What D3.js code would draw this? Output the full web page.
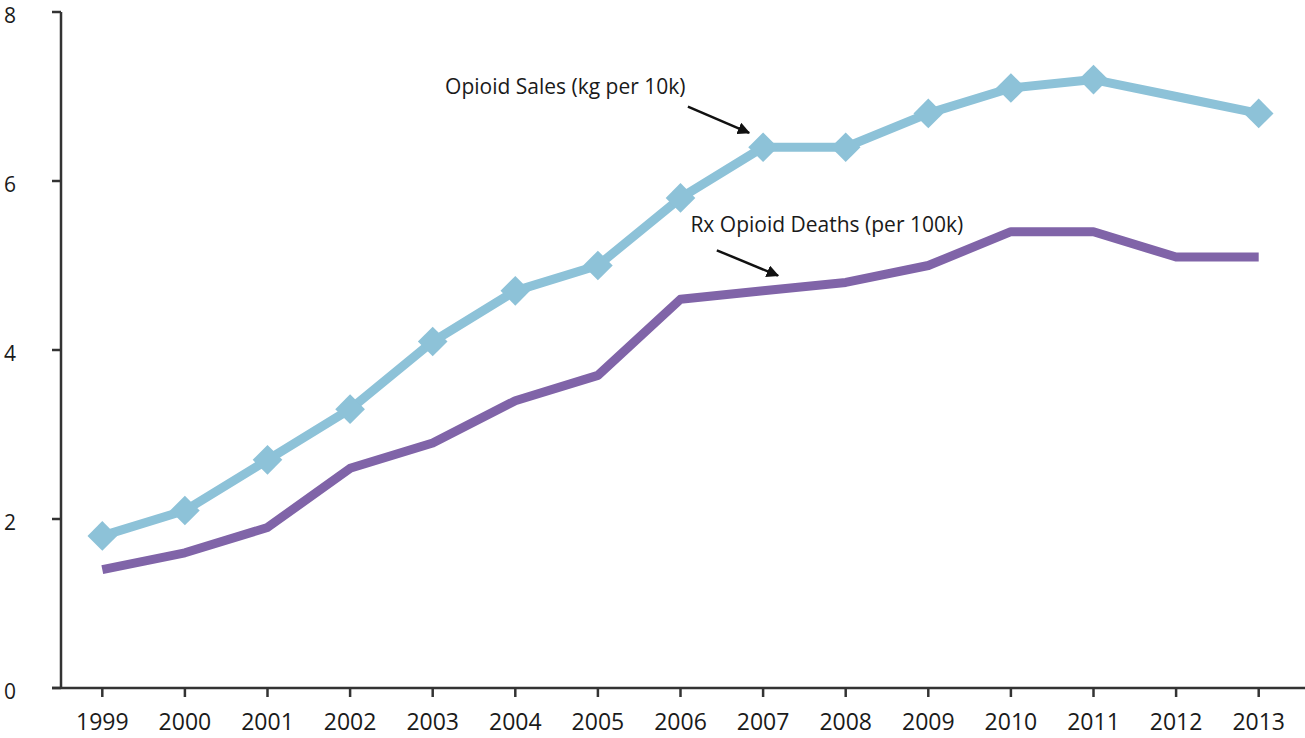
<!DOCTYPE html>
<html>
<head>
<meta charset="utf-8">
<script src="https://cdn.jsdelivr.net/npm/d3@7"></script>
<style>
  body { margin: 0; background: #fff; }
  text { font-family: "Open Sans", sans-serif; fill: #1a1a1a; }
</style>
</head>
<body>
<div id="chart"></div>
<script>
// data
const years = [1999, 2000, 2001, 2002, 2003, 2004, 2005, 2006, 2007, 2008, 2009, 2010, 2011, 2012, 2013]
const salesValues = [1.8, 2.1, 2.7, 3.3, 4.1, 4.7, 5.0, 5.8, 6.4, 6.4, 6.8, 7.1, 7.2, 7.0, 6.8]
const deathValues = [1.4, 1.6, 1.9, 2.6, 2.9, 3.4, 3.7, 4.6, 4.7, 4.8, 5.0, 5.4, 5.4, 5.1, 5.1]
const markedYears = [1999, 2000, 2001, 2002, 2003, 2004, 2005, 2006, 2007, 2008, 2009, 2010, 2011, 2013]
const yTicks = [0, 2, 4, 6, 8]
const labels = [
  {text: "Opioid Sales (kg per 10k)", year: 2003.15, value: 7.03, arrowFrom: [2006.09, 6.88], arrowTo: [2006.83, 6.57]},
  {text: "Rx Opioid Deaths (per 100k)", year: 2006.12, value: 5.40, arrowFrom: [2006.44, 5.18], arrowTo: [2007.18, 4.88]}
]

const W = 1305, H = 738
const margin = {top: 12, right: 5, bottom: 50, left: 61}
const width = W - margin.left - margin.right,
      height = H - margin.top - margin.bottom

const svg = d3.select("#chart").append("svg")
    .attr("width", W)
    .attr("height", H)

const g = svg.append("g")
    .attr("transform", "translate(" + margin.left + "," + margin.top + ")")

let x = d3.scalePoint().domain(years).range([0, width]).padding(0.5)
let y = d3.scaleLinear().domain([0, 8]).range([height, 0])
// continuous year scale for the annotation positions
let xc = d3.scaleLinear().domain([years[0], years[years.length - 1]]).range([x(years[0]), x(years[years.length - 1])])

// axes
const axisColor = "#333"
g.append("line")
    .attr("x1", 0).attr("x2", 0)
    .attr("y1", 0).attr("y2", height)
    .attr("stroke", axisColor).attr("stroke-width", 2.5)

g.append("line")
    .attr("x1", -9).attr("x2", width + 5)
    .attr("y1", height).attr("y2", height)
    .attr("stroke", axisColor).attr("stroke-width", 2.5)

g.selectAll(".ytick")
    .data(yTicks)
    .enter()
    .append("line")
        .attr("x1", -9).attr("x2", 0)
        .attr("y1", d => y(d)).attr("y2", d => y(d))
        .attr("stroke", axisColor).attr("stroke-width", 2.5)

g.selectAll(".ylab")
    .data(yTicks)
    .enter()
    .append("text")
        .attr("x", -51)
        .attr("y", d => y(d))
        .attr("dy", "0.5em")
        .attr("text-anchor", "middle")
        .style("font-size", "21px")
        .text(d => d)

g.selectAll(".xtick")
    .data(years)
    .enter()
    .append("line")
        .attr("x1", d => x(d)).attr("x2", d => x(d))
        .attr("y1", height).attr("y2", height + 9)
        .attr("stroke", axisColor).attr("stroke-width", 2.5)

g.selectAll(".xlab")
    .data(years)
    .enter()
    .append("text")
        .attr("x", d => x(d))
        .attr("y", height + 42)
        .attr("text-anchor", "middle")
        .style("font-size", "23px")
        .text(d => d)

// lines
const line = d3.line()
    .x((d, i) => x(years[i]))
    .y(d => y(d))

g.append("path")
    .datum(deathValues)
    .attr("d", line)
    .attr("fill", "none")
    .attr("stroke", "#8064A8")
    .attr("stroke-width", 9)
    .attr("stroke-linejoin", "round")

g.append("path")
    .datum(salesValues)
    .attr("d", line)
    .attr("fill", "none")
    .attr("stroke", "#8DC2D8")
    .attr("stroke-width", 9)
    .attr("stroke-linejoin", "round")

const marked = years.map((yr, i) => ({year: yr, value: salesValues[i]}))
    .filter(d => markedYears.includes(d.year))

g.selectAll(".diamond")
    .data(marked)
    .enter()
    .append("path")
        .attr("d", d3.symbol().type(d3.symbolDiamond2).size(560))
        .attr("transform", d => "translate(" + x(d.year) + "," + y(d.value) + ")")
        .attr("fill", "#8DC2D8")

// annotations
svg.append("defs").append("marker")
    .attr("id", "arrow")
    .attr("viewBox", "0 0 10 10")
    .attr("refX", 9).attr("refY", 5)
    .attr("markerWidth", 5).attr("markerHeight", 5)
    .attr("orient", "auto")
    .append("path")
        .attr("d", "M0,0 L10,5 L0,10 Z")
        .attr("fill", "#111")

labels.forEach(l => {
    g.append("text")
        .attr("x", xc(l.year))
        .attr("y", y(l.value))
        .style("font-size", "21px")
        .text(l.text)
    g.append("line")
        .attr("x1", xc(l.arrowFrom[0])).attr("y1", y(l.arrowFrom[1]))
        .attr("x2", xc(l.arrowTo[0])).attr("y2", y(l.arrowTo[1]))
        .attr("stroke", "#111").attr("stroke-width", 2.5)
        .attr("marker-end", "url(#arrow)")
})
</script>
</body>
</html>
